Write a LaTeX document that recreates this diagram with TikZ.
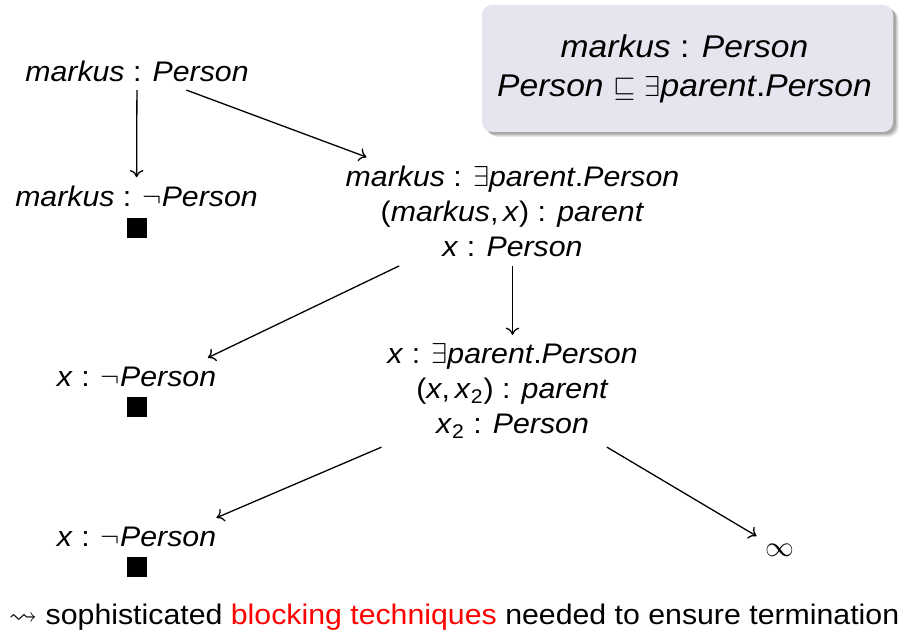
\documentclass[tikz,border=0pt]{standalone}
\usepackage{amssymb}
\usepackage{fontspec}
\setmainfont{Liberation Sans}[FakeStretch=1.07]
\usetikzlibrary{arrows.meta,shadows}

\definecolor{kbfill}{RGB}{229,229,239}
\newcommand\slidefont{\fontsize{14.15pt}{17.5pt}\selectfont}
\newcommand\kbfont{\fontsize{15.7pt}{19.5pt}\selectfont}
\newcommand\clash{\rule{10pt}{10pt}}

\begin{document}
\begin{tikzpicture}[x=0.5pt,y=-0.5pt,
  every node/.style={inner sep=0pt, outer sep=0pt, align=center},
  term/.style={font=\slidefont, inner xsep=5pt, inner ysep=4.5pt},
  link/.style={-{To[length=3.6pt,width=6.8pt]}, line width=0.65pt},
  kbbox/.style={font=\kbfont, rounded corners=5pt, fill=kbfill,
    minimum width=205.5pt, minimum height=63.5pt,
    general shadow={fill=black, opacity=0.10, shadow xshift=2.8pt, shadow yshift=-2.4pt},
    general shadow={fill=black, opacity=0.12, shadow xshift=2.1pt, shadow yshift=-1.8pt},
    general shadow={fill=black, opacity=0.16, shadow xshift=1.4pt, shadow yshift=-1.2pt}}]
\clip (0,0) rectangle (899,635);

% knowledge base
\node[kbbox] (kb) at (687.5,68.5)
  {\textit{markus} : \textit{Person}\hspace*{3pt}\\
   \textit{Person} $\sqsubseteq$ $\exists$\textit{parent}.\textit{Person}\hspace*{3pt}};

% tableau
\node[term, inner ysep=4pt] (root) at (137,71.7) {\textit{markus} : \textit{Person}};
\node[term] (negroot) at (136.5,212)
  {\textit{markus} : $\neg$\textit{Person}\\[-2pt]\clash};
\node[term] (ex1) at (512.5,211.5)
  {\textit{markus} : $\exists$\textit{parent}.\textit{Person}\\
   (\textit{markus},\,\textit{x}) : \textit{parent}\\
   \textit{x} : \textit{Person}};
\node[term] (negx1) at (136.5,392)
  {\textit{x} : $\neg$\textit{Person}\\[-2pt]\clash};
\node[term] (ex2) at (512.5,391)
  {\textit{x} : $\exists$\textit{parent}.\textit{Person}\\
   (\textit{x},\,\textit{x}\textsubscript{2}) : \textit{parent}\\
   \textit{x}\textsubscript{2} : \textit{Person}};
\node[term] (negx2) at (136.5,552)
  {\textit{x} : $\neg$\textit{Person}\\[-2pt]\clash};
\node[term, inner xsep=4.5pt] (inf) at (780,550) {$\infty$};

\draw[link] (root) -- (negroot);
\draw[link] (root) -- (ex1);
\draw[link] (ex1) -- (negx1);
\draw[link] (ex1) -- (ex2);
\draw[link] (ex2) -- (negx2);
\draw[link] (ex2) -- (inf);

% conclusion line
\node[font=\slidefont, anchor=base west] (note) at (9,624)
  {$\leadsto$ sophisticated \textcolor{red}{blocking techniques} needed to ensure termination};
\end{tikzpicture}
\end{document}
